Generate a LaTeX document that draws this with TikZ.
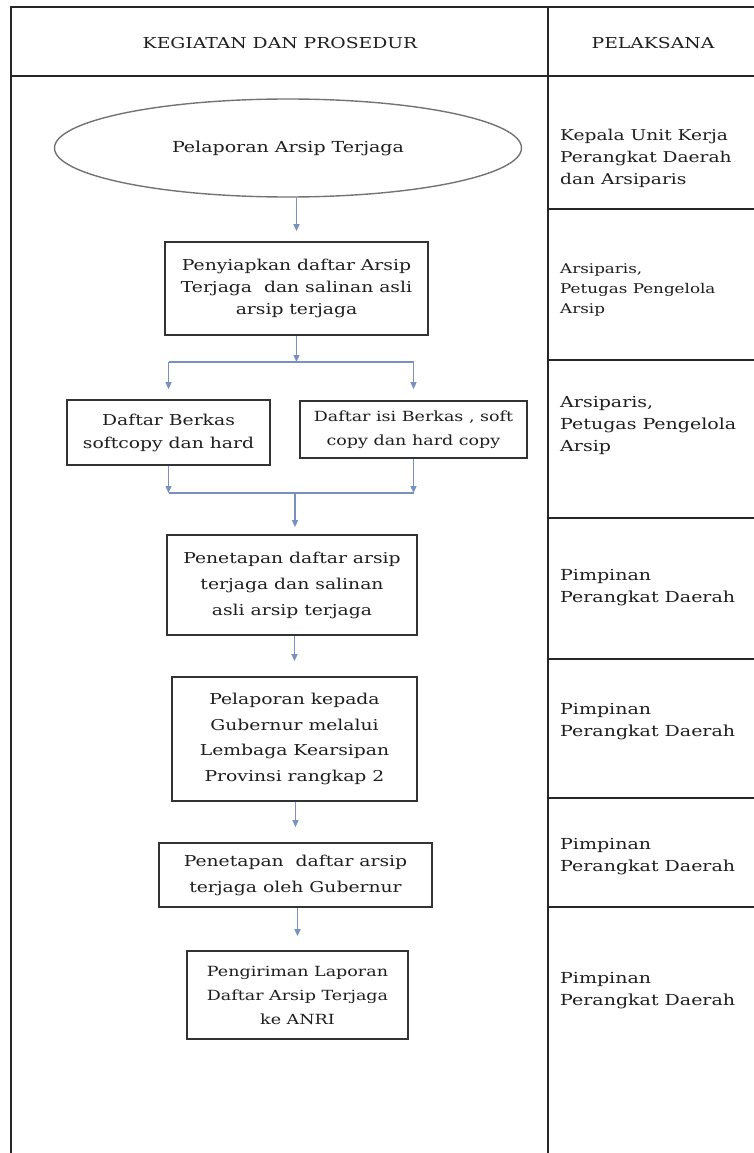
\documentclass[tikz,border=0pt]{standalone}
\usepackage{fontspec}
\setmainfont[FakeStretch=1.25]{DejaVu Serif}
\usetikzlibrary{shapes.geometric,arrows.meta}
\definecolor{flowc}{RGB}{120,145,190}
\definecolor{ink}{RGB}{30,30,30}
\begin{document}
\begin{tikzpicture}[x=1pt,y=-1pt,
  grid/.style={line width=1.8pt,draw=black!85},
  box/.style={draw=black!80,line width=1.7pt,align=center,inner sep=0pt,text=ink,font=\fontsize{15}{22}\selectfont},
  flow/.style={draw=flowc,line width=1.4pt},
  arr/.style={flow,-{Triangle[width=6pt,length=7pt]},color=flowc},
  who/.style={anchor=west,align=left,inner sep=0pt,text=ink,font=\fontsize{15.2}{22}\selectfont},
  hdr/.style={inner sep=0pt,text=ink,font=\fontsize{15}{16}\selectfont},
]
\useasboundingbox (0,0) rectangle (754,1153);
% table frame
\draw[grid] (11,1153) -- (11,7) -- (754,7);
\draw[grid] (11,76) -- (754,76);
\draw[grid] (548,7) -- (548,1153);
\foreach \yy in {209,360,518,659,798,907} \draw[grid] (548,\yy) -- (754,\yy);
% headers
\node[hdr] (h1) at (280,43) {KEGIATAN DAN PROSEDUR};
\node[hdr] (h2) at (653,43) {PELAKSANA};
% flow nodes
\node[ellipse,draw=black!55,line width=1.4pt,minimum width=467pt,minimum height=98pt,inner sep=0pt,text=ink,font=\fontsize{15.2}{22}\selectfont] (e) at (288,148) {Pelaporan Arsip Terjaga};
\node[box,minimum width=263pt,minimum height=93pt] (b1) at (296.5,288.5) {Penyiapkan daftar Arsip\\Terjaga\ \ dan salinan asli\\arsip terjaga};
\node[box,minimum width=203pt,minimum height=65pt,font=\fontsize{15}{23}\selectfont] (b2) at (168.5,432.5) {Daftar Berkas\\softcopy dan hard};
\node[box,minimum width=227pt,minimum height=57pt,font=\fontsize{14}{24}\selectfont] (b3) at (413.5,429.5) {Daftar isi Berkas , soft\\copy dan hard copy};
\node[box,minimum width=250pt,minimum height=100pt,font=\fontsize{15}{26}\selectfont] (b4) at (292,585) {Penetapan daftar arsip\\terjaga dan salinan\\asli arsip terjaga};
\node[box,minimum width=245pt,minimum height=124pt,font=\fontsize{15}{25.5}\selectfont] (b5) at (294.5,739) {Pelaporan kepada\\Gubernur melalui\\Lembaga Kearsipan\\Provinsi rangkap 2};
\node[box,minimum width=273pt,minimum height=64pt,font=\fontsize{15}{26}\selectfont] (b6) at (295.5,875) {Penetapan\ \ daftar arsip\\terjaga oleh Gubernur};
\node[box,minimum width=221pt,minimum height=88pt,font=\fontsize{14}{24}\selectfont] (b7) at (297.5,995) {Pengiriman Laporan\\Daftar Arsip Terjaga\\ke ANRI};
% connectors
\coordinate (jt) at (296.5,362);
\coordinate (jl) at (168.5,362);
\coordinate (jr) at (413.5,362);
\coordinate (mc) at (295,493);
\coordinate (ml) at (168.5,493);
\coordinate (mr) at (413.5,493);
\draw[arr,shorten >=10pt] (b1.north |- e.south) -- (b1.north);
\draw[arr] (b1.south) -- (jt);
\draw[flow] (jl) -- (jr);
\draw[arr,shorten >=10pt] (jl) -- (b2.north);
\draw[arr,shorten >=11pt] (jr) -- (b3.north);
\draw[arr] (b2.south) -- (ml);
\draw[arr] (b3.south) -- (mr);
\draw[flow] (ml) -- (mr);
\draw[arr,shorten >=7pt] (mc) -- (mc |- b4.north);
\draw[arr,shorten >=15pt] (b5.north |- b4.south) -- (b5.north);
\draw[arr,shorten >=15pt] (b6.north |- b5.south) -- (b6.north);
\draw[arr,shorten >=14pt] (b7.north |- b6.south) -- (b7.north);
% pelaksana
\node[who,font=\fontsize{14.9}{22}\selectfont] (p1) at (560,158) {Kepala Unit Kerja\\Perangkat Daerah\\dan Arsiparis};
\node[who,font=\fontsize{13.4}{20}\selectfont] (p2) at (560,290) {Arsiparis,\\Petugas Pengelola\\Arsip};
\node[who] (p3) at (560,425) {Arsiparis,\\Petugas Pengelola\\Arsip};
\node[who] (p4) at (560,588) {Pimpinan\\Perangkat Daerah};
\node[who] (p5) at (560,722) {Pimpinan\\Perangkat Daerah};
\node[who] (p6) at (560,857) {Pimpinan\\Perangkat Daerah};
\node[who] (p7) at (560,991) {Pimpinan\\Perangkat Daerah};
\end{tikzpicture}
\end{document}
